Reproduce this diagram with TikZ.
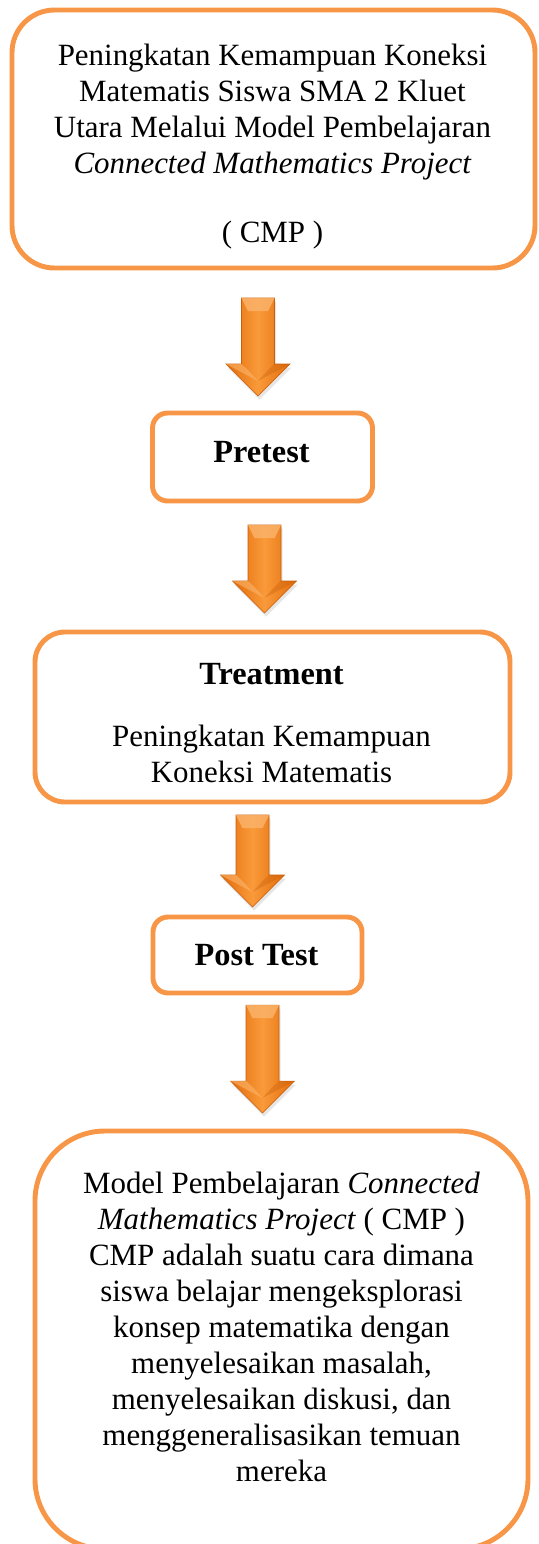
\documentclass[tikz,border=0pt]{standalone}
\usepackage{fontspec}
\setmainfont{Liberation Serif}
\usetikzlibrary{calc,shadows}

\definecolor{boxorange}{HTML}{F79646}
\definecolor{arrowdark}{HTML}{E36C0A}
\definecolor{arrowlight}{HTML}{F99A3A}
\definecolor{arrowedge}{HTML}{C85E0A}
\definecolor{arrowbevel}{HTML}{FBB46C}

\tikzset{
  flowbox/.style={draw=boxorange, line width=2.8pt, rounded corners=#1, inner sep=0pt, outer sep=0pt},
  flowtext/.style={align=center, inner sep=0pt, font=\fontsize{17.6}{20.5}\selectfont},
  flowhead/.style={align=center, inner sep=0pt, font=\fontsize{18.4}{21}\selectfont\bfseries},
  arrowshade/.style={left color=arrowdark, right color=arrowdark, middle color=arrowlight, draw=arrowedge, line width=0.3pt,
    drop shadow={opacity=0.2, shadow xshift=0.03cm, shadow yshift=-0.07cm}},
  pics/blockarr/.style={code={
    \path[arrowshade] (-0.33,0) -- (0.33,0) -- (0.33,-#1+0.64) -- (0.64,-#1+0.64) -- (0,-#1) -- (-0.64,-#1+0.64) -- (-0.33,-#1+0.64) -- cycle;
    \fill[arrowbevel, opacity=0.8] (-0.33,0) -- (0.33,0) -- (0.2,-0.26) -- (-0.2,-0.26) -- cycle;
    \fill[arrowbevel, opacity=0.6] (-0.64,-#1+0.64) -- (-0.33,-#1+0.64) -- (-0.2,-#1+0.52) -- (0,-#1+0.3) -- cycle;
    \fill[arrowedge, opacity=0.35] (0.64,-#1+0.64) -- (0.33,-#1+0.64) -- (0.2,-#1+0.52) -- (0,-#1+0.3) -- cycle;
  }}
}

\begin{document}
\begin{tikzpicture}
  \useasboundingbox (0,0) rectangle (10.76,-30.88);
  \node[flowbox=0.85cm, minimum width=10.46cm, minimum height=5.16cm] (judul) at (5.47,-2.78) {};
  \node[flowtext] (judultxt) at (5.45,-2.93)
    {Peningkatan Kemampuan Koneksi\\ Matematis Siswa SMA 2 Kluet\\ Utara Melalui Model Pembelajaran\\ \textit{Connected Mathematics Project}\\[0.66cm] ( CMP )};
  \node[flowbox=0.3cm, minimum width=4.4cm, minimum height=1.76cm] (pretest) at (5.25,-9.14) {};
  \node[flowhead] (pretesttxt) at (5.23,-9.04) {Pretest};
  \node[flowbox=0.6cm, minimum width=9.5cm, minimum height=3.4cm] (treat) at (5.45,-14.34) {};
  \node[flowhead] (treathead) at (5.43,-13.48) {Treatment};
  \node[flowtext] (treattxt) at (5.43,-15.08) {Peningkatan Kemampuan\\ Koneksi Matematis};
  \node[flowbox=0.3cm, minimum width=4.18cm, minimum height=1.52cm] (posttest) at (5.15,-19.1) {};
  \node[flowhead] (posttesttxt) at (5.13,-19.1) {Post Test};
  \node[flowbox=1.4cm, minimum width=9.86cm, minimum height=8.36cm] (cmp) at (5.63,-26.8) {};
  \node[flowtext] (cmptxt) at (5.63,-26.54)
    {Model Pembelajaran \textit{Connected}\\ \textit{Mathematics Project} ( CMP )\\ CMP adalah suatu cara dimana\\ siswa belajar mengeksplorasi\\ konsep matematika dengan\\ menyelesaikan masalah,\\ menyelesaikan diskusi, dan\\ menggeneralisasikan temuan\\ mereka};

  \pic at ([shift={(-0.31,-0.6)}]judul.south) {blockarr=1.96};
  \pic at ([shift={(0.04,-0.48)}]pretest.south) {blockarr=1.76};
  \pic at ([shift={(-0.4,-0.26)}]treat.south) {blockarr=1.84};
  \pic at ([shift={(0.1,-0.24)}]posttest.south) {blockarr=2.16};
\end{tikzpicture}
\end{document}
